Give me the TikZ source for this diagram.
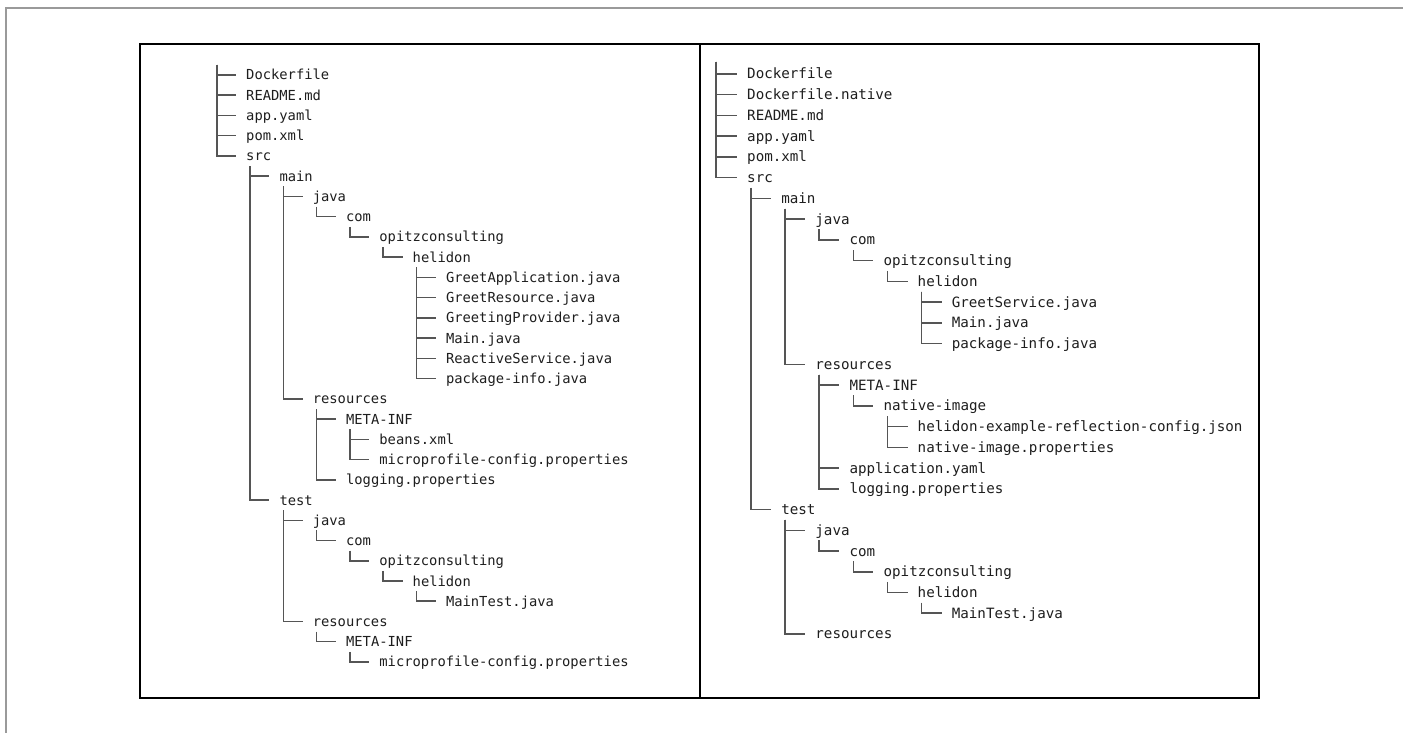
\documentclass[tikz,border=0pt]{standalone}
\usepackage{fontspec}
\newfontfamily\treefont{DejaVu Sans Mono}
\definecolor{txtc}{HTML}{1E1E1E}
\definecolor{branchc}{HTML}{555555}
\definecolor{framec}{HTML}{9A9A9A}
\tikzset{
  treeentry/.style={anchor=west, inner sep=0pt, text height=10pt, text depth=0pt, text=txtc},
  lentry/.style={treeentry, font=\treefont\fontsize{13.8pt}{14pt}\selectfont},
  rentry/.style={treeentry, font=\treefont\fontsize{14.2pt}{15pt}\selectfont},
  treeline/.style={draw=branchc, line width=1.5pt},
  panelbox/.style={draw=black, line width=2pt},
  frameline/.style={draw=framec, line width=1.5pt},
}
\newcommand\treeL[4]{\node[lentry] (#1) at ({246+33.3*#2},{75+20.24*#3}) {#4};}
\newcommand\treeR[4]{\node[rentry] (#1) at ({747+34.1*#2},{74+20.74*#3}) {#4};}
\newcommand\linkTo[2]{\draw[treeline] ([shift={(4pt,-5pt)}]#1.south west) |- ([xshift=-10pt]#2.west);}
\newcommand\linkRoot[2]{\draw[treeline] (#1) |- ([xshift=-10pt]#2.west);}
\begin{document}
\begin{tikzpicture}[x=1pt,y=-1pt]
\useasboundingbox (0,0) rectangle (1403,733);
\fill[white] (0,0) rectangle (1403,733);
% outer page frame
\draw[frameline] (6,733) -- (6,8) -- (1403,8);
% panels
\draw[panelbox] (140,44) rectangle (1259,698);
\draw[panelbox] (700,44) -- (700,698);

% ---------------- left tree ----------------
\coordinate (Lroot) at (217,65);
\treeL{lDocker}{0}{0}{Dockerfile}
\treeL{lReadme}{0}{1}{README.md}
\treeL{lApp}{0}{2}{app.yaml}
\treeL{lPom}{0}{3}{pom.xml}
\treeL{lSrc}{0}{4}{src}
\treeL{lMain}{1}{5}{main}
\treeL{lMJava}{2}{6}{java}
\treeL{lMCom}{3}{7}{com}
\treeL{lMOpitz}{4}{8}{opitzconsulting}
\treeL{lMHel}{5}{9}{helidon}
\treeL{lGA}{6}{10}{GreetApplication.java}
\treeL{lGR}{6}{11}{GreetResource.java}
\treeL{lGP}{6}{12}{GreetingProvider.java}
\treeL{lMJ}{6}{13}{Main.java}
\treeL{lRS}{6}{14}{ReactiveService.java}
\treeL{lPI}{6}{15}{package-info.java}
\treeL{lMRes}{2}{16}{resources}
\treeL{lMMeta}{3}{17}{META-INF}
\treeL{lBeans}{4}{18}{beans.xml}
\treeL{lMMicro}{4}{19}{microprofile-config.properties}
\treeL{lLog}{3}{20}{logging.properties}
\treeL{lTest}{1}{21}{test}
\treeL{lTJava}{2}{22}{java}
\treeL{lTCom}{3}{23}{com}
\treeL{lTOpitz}{4}{24}{opitzconsulting}
\treeL{lTHel}{5}{25}{helidon}
\treeL{lMT}{6}{26}{MainTest.java}
\treeL{lTRes}{2}{27}{resources}
\treeL{lTMeta}{3}{28}{META-INF}
\treeL{lTMicro}{4}{29}{microprofile-config.properties}

\linkRoot{Lroot}{lDocker}
\linkRoot{Lroot}{lReadme}
\linkRoot{Lroot}{lApp}
\linkRoot{Lroot}{lPom}
\linkRoot{Lroot}{lSrc}
\linkTo{lSrc}{lMain}
\linkTo{lSrc}{lTest}
\linkTo{lMain}{lMJava}
\linkTo{lMain}{lMRes}
\linkTo{lMJava}{lMCom}
\linkTo{lMCom}{lMOpitz}
\linkTo{lMOpitz}{lMHel}
\linkTo{lMHel}{lGA}
\linkTo{lMHel}{lGR}
\linkTo{lMHel}{lGP}
\linkTo{lMHel}{lMJ}
\linkTo{lMHel}{lRS}
\linkTo{lMHel}{lPI}
\linkTo{lMRes}{lMMeta}
\linkTo{lMRes}{lLog}
\linkTo{lMMeta}{lBeans}
\linkTo{lMMeta}{lMMicro}
\linkTo{lTest}{lTJava}
\linkTo{lTest}{lTRes}
\linkTo{lTJava}{lTCom}
\linkTo{lTCom}{lTOpitz}
\linkTo{lTOpitz}{lTHel}
\linkTo{lTHel}{lMT}
\linkTo{lTRes}{lTMeta}
\linkTo{lTMeta}{lTMicro}

% ---------------- right tree ----------------
\coordinate (Rroot) at (716,62);
\treeR{rDocker}{0}{0}{Dockerfile}
\treeR{rDockerN}{0}{1}{Dockerfile.native}
\treeR{rReadme}{0}{2}{README.md}
\treeR{rApp}{0}{3}{app.yaml}
\treeR{rPom}{0}{4}{pom.xml}
\treeR{rSrc}{0}{5}{src}
\treeR{rMain}{1}{6}{main}
\treeR{rMJava}{2}{7}{java}
\treeR{rMCom}{3}{8}{com}
\treeR{rMOpitz}{4}{9}{opitzconsulting}
\treeR{rMHel}{5}{10}{helidon}
\treeR{rGS}{6}{11}{GreetService.java}
\treeR{rMJ}{6}{12}{Main.java}
\treeR{rPI}{6}{13}{package-info.java}
\treeR{rMRes}{2}{14}{resources}
\treeR{rMeta}{3}{15}{META-INF}
\treeR{rNI}{4}{16}{native-image}
\treeR{rHE}{5}{17}{helidon-example-reflection-config.json}
\treeR{rNIP}{5}{18}{native-image.properties}
\treeR{rAppY}{3}{19}{application.yaml}
\treeR{rLog}{3}{20}{logging.properties}
\treeR{rTest}{1}{21}{test}
\treeR{rTJava}{2}{22}{java}
\treeR{rTCom}{3}{23}{com}
\treeR{rTOpitz}{4}{24}{opitzconsulting}
\treeR{rTHel}{5}{25}{helidon}
\treeR{rMT}{6}{26}{MainTest.java}
\treeR{rTRes}{2}{27}{resources}

\linkRoot{Rroot}{rDocker}
\linkRoot{Rroot}{rDockerN}
\linkRoot{Rroot}{rReadme}
\linkRoot{Rroot}{rApp}
\linkRoot{Rroot}{rPom}
\linkRoot{Rroot}{rSrc}
\linkTo{rSrc}{rMain}
\linkTo{rSrc}{rTest}
\linkTo{rMain}{rMJava}
\linkTo{rMain}{rMRes}
\linkTo{rMJava}{rMCom}
\linkTo{rMCom}{rMOpitz}
\linkTo{rMOpitz}{rMHel}
\linkTo{rMHel}{rGS}
\linkTo{rMHel}{rMJ}
\linkTo{rMHel}{rPI}
\linkTo{rMRes}{rMeta}
\linkTo{rMRes}{rAppY}
\linkTo{rMRes}{rLog}
\linkTo{rMeta}{rNI}
\linkTo{rNI}{rHE}
\linkTo{rNI}{rNIP}
\linkTo{rTest}{rTJava}
\linkTo{rTest}{rTRes}
\linkTo{rTJava}{rTCom}
\linkTo{rTCom}{rTOpitz}
\linkTo{rTOpitz}{rTHel}
\linkTo{rTHel}{rMT}
\end{tikzpicture}
\end{document}
